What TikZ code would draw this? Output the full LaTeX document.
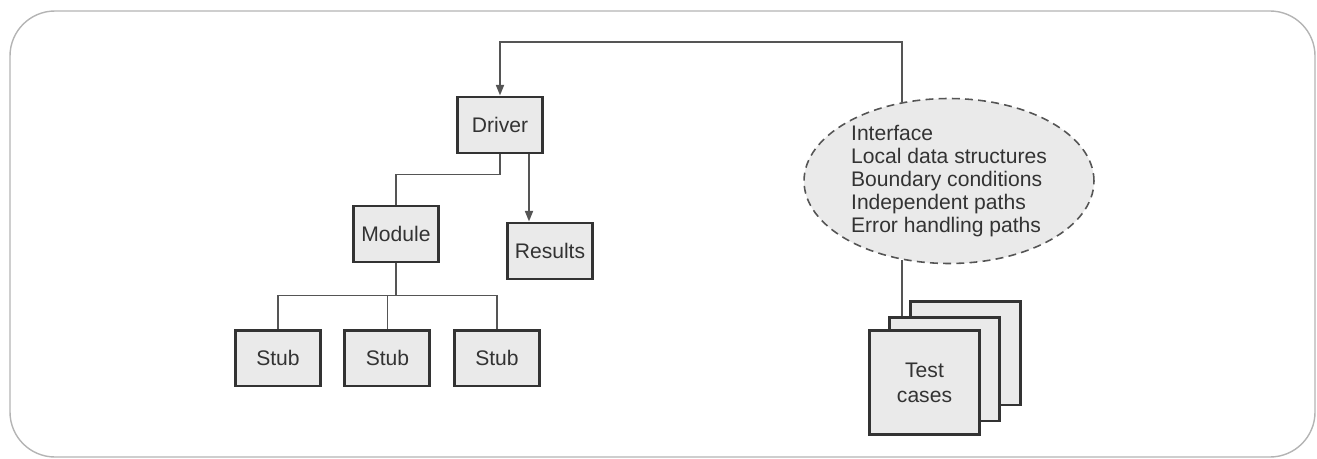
\documentclass[tikz,border=0pt]{standalone}
\usepackage{fontspec}
\setmainfont{Liberation Sans}
\usepackage{xcolor}
\usetikzlibrary{shapes,arrows.meta,positioning}
\definecolor{boxfill}{HTML}{EAEAEA}
\definecolor{boxline}{HTML}{333333}
\definecolor{wire}{HTML}{555555}
\definecolor{framegray}{HTML}{B4B4B4}
\definecolor{txt}{HTML}{333333}

\begin{document}
\begin{tikzpicture}[
    x=0.02cm, y=-0.02cm,
    font=\fontsize{12}{13}\selectfont, text=txt,
    box/.style={rectangle, draw=boxline, line width=1.7pt, fill=boxfill, minimum width=1.7cm, minimum height=1.12cm, inner sep=0pt, align=center},
    card/.style={box, minimum width=2.2cm, minimum height=2.08cm, font=\fontsize{12}{14.2}\selectfont},
    topics/.style={ellipse, draw=wire, dash pattern=on 4.5pt off 3pt, line width=0.9pt, fill=boxfill, minimum width=5.8cm, minimum height=3.3cm, inner sep=0pt, align=left},
    wireline/.style={draw=wire, line width=1.1pt},
    arrow/.style={wireline, -{Triangle[length=6pt,width=4.5pt]}}
]
    \useasboundingbox (0,0) rectangle (1317,459);
    \draw[framegray, line width=0.8pt, rounded corners=0.9cm] (10,11) rectangle (1315,457);

    % unit under test
    \node[box] (driver) at (500,125) {Driver};
    \node[box] (module) at (396,234) {Module};
    \node[box] (results) at (550,251) {Results};
    \node[box] (stub1) at (278,358) {Stub};
    \node[box, right=0.43cm of stub1] (stub2) {Stub};
    \node[box, right=0.43cm of stub2] (stub3) {Stub};

    % what is tested
    \node[topics] (info) at (949,181) {Interface\\Local data structures\\Boundary conditions\\Independent paths\\Error handling paths};
    \node[card] (card3) at (965,353) {};
    \node[card] (card2) at (944.5,369) {};
    \node[card] (cases) at (924.5,382.5) {Test\\cases};

    \coordinate (loop) at (500,42);
    \draw[arrow] (info.121) |- (loop) -- (driver.north);
    \draw[wireline] (info.239) -- (info.239 |- card2.north);
    \draw[wireline] (driver.south) -- ++(0,20) -| (module.north);
    \draw[arrow] ([xshift=0.58cm]driver.south) coordinate (d2) -- (d2 |- results.north);
    \draw[wireline] (module.south) -- ++(0,32) coordinate (bus);
    \draw[wireline] (stub1.north) |- (bus) -| (stub3.north);
    \draw[wireline] (stub2.north) -- (stub2.north |- bus);
\end{tikzpicture}
\end{document}
